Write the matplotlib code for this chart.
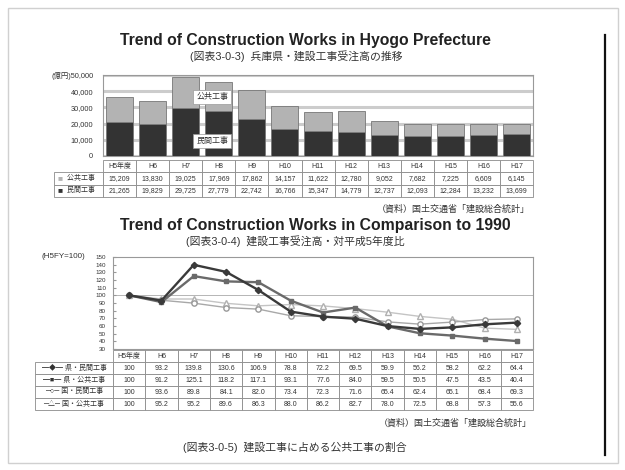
import numpy as np
import matplotlib.pyplot as plt
from matplotlib.lines import Line2D
from matplotlib.patches import Rectangle

plt.rcParams['font.family'] = ['Liberation Sans', 'Noto Sans CJK JP', 'DejaVu Sans']

years = ['H5年度', 'H6', 'H7', 'H8', 'H9', 'H10', 'H11', 'H12',
         'H13', 'H14', 'H15', 'H16', 'H17']

# 兵庫県 建設工事受注高 (億円)
public_works = [15209, 13830, 19025, 17969, 17862, 14157, 11622,
                12780, 9052, 7682, 7225, 6609, 6145]
private_works = [21265, 19829, 29725, 27779, 22742, 16766, 15347,
                 14779, 12737, 12093, 12284, 13232, 13699]

# 対平成5年度比 (H5FY=100)
pref_private = [100, 93.2, 139.8, 130.6, 106.9, 78.8, 72.2, 69.5, 59.9, 56.2, 58.2, 62.2, 64.4]
pref_public = [100, 91.2, 125.1, 118.2, 117.1, 93.1, 77.6, 84.0, 59.5, 50.5, 47.5, 43.5, 40.4]
nat_private = [100, 93.6, 89.8, 84.1, 82.0, 73.4, 72.3, 71.6, 65.4, 62.4, 65.1, 68.4, 69.3]
nat_public = [100, 95.2, 95.2, 89.6, 86.3, 88.0, 86.2, 82.7, 78.0, 72.5, 68.8, 57.3, 55.6]

ratio_labels = ['━◆━ 県・民間工事', '━■━ 県・公共工事',
                '─○─ 国・民間工事', '─△─ 国・公共工事']

W, H = 625, 470
fig = plt.figure(figsize=(W / 100, H / 100), dpi=100)
fig.patch.set_facecolor('white')


def box(x0, y0, x1, y1):
    # pixel rectangle (from top-left) -> figure fraction
    return [x0 / W, 1 - y1 / H, (x1 - x0) / W, (y1 - y0) / H]


def ftext(x, y, s, **kw):
    fig.text(x / W, 1 - y / H, s, **kw)


def style_table(tab, fs):
    tab.auto_set_font_size(False)
    tab.set_fontsize(fs)
    for (r, c), cell in tab.get_celld().items():
        cell.set_edgecolor('#8a8a8a')
        cell.set_linewidth(0.6)
        cell.get_text().set_color('#333333')
    tab[(0, 0)].set_visible(False)


x = np.arange(len(years))

# page frame
fig.add_artist(Rectangle((8 / W, 1 - 463 / H), 610 / W, 455 / H, fill=False,
                         ec='#d0d0d0', lw=1.0))

# ---- 兵庫県・建設工事受注高の推移 ----
ftext(305, 41, 'Trend of Construction Works in Hyogo Prefecture',
      ha='center', va='center', fontsize=11.3, fontweight='bold', color='#222222')
ftext(296, 56, '(図表3-0-3)  兵庫県・建設工事受注高の推移',
      ha='center', va='center', fontsize=7.8, color='#333333')

ax1 = fig.add_axes(box(103, 75, 533, 156))
ax1.bar(x, private_works, width=0.82, color='#333333', edgecolor='#777777', lw=0.6, zorder=3)
ax1.bar(x, public_works, bottom=private_works, width=0.82, color='#b3b3b3',
        edgecolor='#777777', lw=0.6, zorder=3)
ax1.set_xlim(-0.5, len(years) - 0.5)
ax1.set_ylim(0, 50000)
ax1.set_yticks(range(0, 50001, 10000))
ax1.set_yticklabels(['0', '10,000', '20,000', '30,000', '40,000', '(億円)50,000'])
ax1.yaxis.grid(True, color='#cccccc', lw=2.2, zorder=0)
ax1.set_xticks([])
ax1.tick_params(axis='y', length=0, labelsize=5.3, pad=7, labelcolor='#333333')
for s in ax1.spines.values():
    s.set_color('#999999')
    s.set_linewidth(0.8)

box_style = dict(boxstyle='square,pad=0.35', fc='white', ec='#999999', lw=0.5)
ax1.text(2.8, 36400, '公共工事', ha='center', va='center', fontsize=5.8,
         color='#333333', bbox=box_style, zorder=5)
ax1.text(2.8, 9300, '民間工事', ha='center', va='center', fontsize=5.8,
         color='#333333', bbox=box_style, zorder=5)

cells1 = [['  公共工事'] + [f'{v:,}' for v in public_works],
          ['  民間工事'] + [f'{v:,}' for v in private_works]]
w1 = [49] + [33] * len(years)
w1 = [w / sum(w1) for w in w1]
b1 = [-49 / 430, -41 / 81, 479 / 430, 37 / 81]
tab1 = ax1.table(cellText=cells1, colLabels=[''] + years, colWidths=w1,
                 cellLoc='center', bbox=b1)
style_table(tab1, 5.0)
row_h = b1[3] / 3
for i, col in enumerate(['#b3b3b3', '#333333']):
    ax1.text(-46 / 430, b1[1] + b1[3] - (i + 1.5) * row_h, '■', color=col,
             fontsize=6, ha='left', va='center', transform=ax1.transAxes)

ftext(530, 209, '（資料）国土交通省「建設総合統計」', ha='right', va='center',
      fontsize=6.5, color='#333333')

# ---- 建設工事受注高・対平成5年度比 ----
ftext(315, 226, 'Trend of Construction Works in Comparison to 1990',
      ha='center', va='center', fontsize=11.3, fontweight='bold', color='#222222')
ftext(295, 241, '(図表3-0-4)  建設工事受注高・対平成5年度比',
      ha='center', va='center', fontsize=7.8, color='#333333')

ax2 = fig.add_axes(box(113, 257, 533, 349))
ax2.axhline(100, color='#aaaaaa', lw=0.6, zorder=1)
ax2.plot(x, nat_public, color='#c4c4c4', lw=1.0, marker='^', ms=3.8,
         mfc='white', mec='#b0b0b0', zorder=2)
ax2.plot(x, nat_private, color='#a8a8a8', lw=1.0, marker='o', ms=3.8,
         mfc='white', mec='#999999', zorder=2)
ax2.plot(x, pref_public, color='#6a6a6a', lw=1.7, marker='s', ms=3.2,
         mfc='#6a6a6a', mec='#6a6a6a', zorder=3)
ax2.plot(x, pref_private, color='#3a3a3a', lw=1.7, marker='D', ms=3.2,
         mfc='#3a3a3a', mec='#3a3a3a', zorder=4)
ax2.set_xlim(-0.5, len(years) - 0.5)
ax2.set_ylim(30, 150)
ax2.set_yticks(range(30, 151, 10))
ax2.set_xticks([])
ax2.tick_params(axis='y', length=2, direction='in', labelsize=4.5, pad=5,
                labelcolor='#333333', color='#999999')
for s in ax2.spines.values():
    s.set_color('#999999')
    s.set_linewidth(0.8)
ax2.text(-71 / 420, 1.0, '(H5FY=100)', transform=ax2.transAxes, ha='left',
         va='center', fontsize=5.8, color='#333333')


def fmt(v):
    return '100' if v == 100 else f'{v:.1f}'


series = [pref_private, pref_public, nat_private, nat_public]
cells2 = [[lab] + [fmt(v) for v in s] for lab, s in zip(ratio_labels, series)]
w2 = [78] + [32.3] * len(years)
w2 = [w / sum(w2) for w in w2]
b2 = [-78 / 420, -61 / 92, 498 / 420, 60 / 92]
tab2 = ax2.table(cellText=cells2, colLabels=[''] + years, colWidths=w2,
                 cellLoc='center', bbox=b2)
style_table(tab2, 5.0)

ftext(532, 423, '（資料）国土交通省「建設総合統計」', ha='right', va='center',
      fontsize=6.5, color='#333333')

ftext(295, 447, '(図表3-0-5)  建設工事に占める公共工事の割合',
      ha='center', va='center', fontsize=7.8, color='#333333')

# page rule on the right
fig.add_artist(Line2D([605 / W, 605 / W], [1 - 35 / H, 1 - 455 / H],
                      color='#111111', lw=1.6))

fig.savefig('out.png', dpi=100, facecolor='white')
